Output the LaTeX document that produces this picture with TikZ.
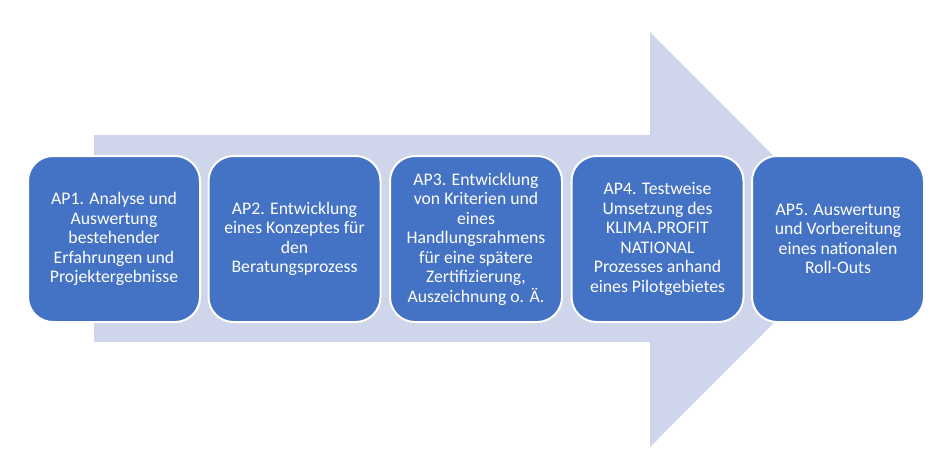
\documentclass[tikz,border=0pt]{standalone}
\usepackage{fontspec}
\setmainfont{Carlito}
\definecolor{boxblue}{HTML}{4472C4}
\definecolor{arrowfill}{HTML}{CFD5EA}
\begin{document}
\begin{tikzpicture}[x=1pt,y=-1pt,
  apbox/.style={draw=white, line width=2pt, fill=boxblue, rounded corners=25pt,
    minimum width=172pt, minimum height=166pt, text=white, align=center,
    font=\fontsize{17.7pt}{19.5pt}\selectfont, inner sep=0pt}]
\useasboundingbox (0,0) rectangle (949,461);
\fill[arrowfill] (94,135) -- (650,135) -- (650,32) -- (857,239.5) -- (650,447) -- (650,342) -- (94,342) -- cycle;
\node[apbox] (ap1) at (114,239) {AP1. Analyse und\\Auswertung\\bestehender\\Erfahrungen und\\Projektergebnisse};
\node[apbox] (ap2) at (294.5,239) {AP2. Entwicklung\\eines Konzeptes für\\den\\Beratungsprozess};
\node[apbox] (ap3) at (476,239) {AP3. Entwicklung\\von Kriterien und\\eines\\Handlungsrahmens\\für eine spätere\\Zertifizierung,\\Auszeichnung o. Ä.};
\node[apbox] (ap4) at (657.5,239) {AP4. Testweise\\Umsetzung des\\KLIMA.PROFIT\\NATIONAL\\Prozesses anhand\\eines Pilotgebietes};
\node[apbox] (ap5) at (838,239) {AP5. Auswertung\\und Vorbereitung\\eines nationalen\\Roll-Outs};
\end{tikzpicture}
\end{document}
